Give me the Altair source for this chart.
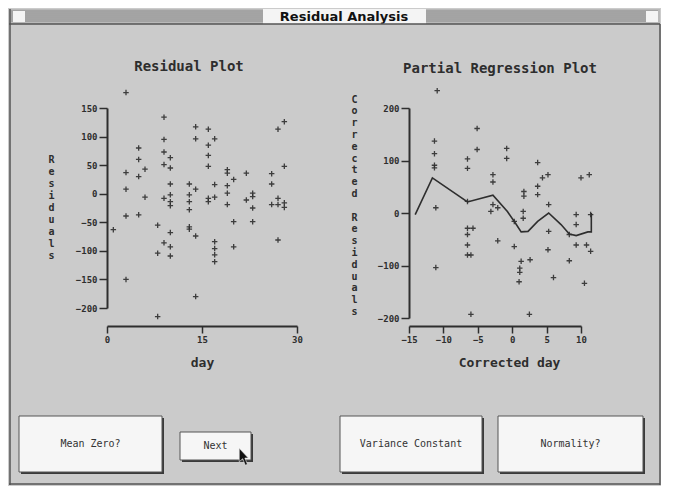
import altair as alt
import pandas as pd

# ---------------- data ----------------
# Residual plot (left): day vs residual
day = [1, 3, 3, 3, 3, 3, 5, 5, 5, 5, 6, 6,
       8, 8, 8, 9, 9, 9, 9, 9, 9,
       10, 10, 10, 10, 10, 10, 10, 10, 10,
       13, 13, 13, 13, 13, 13, 14, 14, 14, 14, 14,
       16, 16, 16, 16, 16, 16, 17, 17, 17, 17, 17, 17, 17,
       19, 19, 19, 19, 19, 20, 20, 20, 22, 22, 23, 23, 23, 23,
       26, 26, 26, 27, 27, 27, 27, 28, 28, 28, 28]
residual = [-63, 177, 37, 8, -39, -150, 80, 60, 30, -37, 43, -6,
            -55, -104, -215, 134, 95, 73, 51, -8, -86,
            63, 45, 17, -2, -14, -21, -68, -93, -109,
            17, -2, -14, -28, -58, -62, 117, 96, 8, -74, -180,
            113, 85, 67, 48, -8, -14, 96, 16, -6, -84, -96, -107, -119,
            42, 36, 14, 1, -19, 25, -49, -93, 36, -11, 1, -5, -25, -49,
            35, 17, -19, 113, -8, -81, -19, 126, 48, -16, -24]

# Partial regression plot (right): corrected day vs corrected residual
corr_day = [-10.9, -11.3, -11.3, -11.3, -11.3, -11.1, -11.1,
            -6.5, -6.5, -6.5, -6.5, -6.5, -6.5, -6.5, -6.0, -5.7, -6.0,
            -5.1, -5.1, -2.8, -2.8, -2.8, -3.1, -2.1, -2.1, -0.8, -0.8,
            0.3, 0.3, 1.3, 1.1, 1.1, 1.0, 1.7, 1.7, 1.6, 1.6, 2.6, 2.5,
            3.7, 3.7, 3.7, 4.4, 5.2, 5.3, 5.3, 5.2, 6.0, 8.3, 8.3,
            9.3, 9.3, 9.3, 10.0, 10.5, 11.2, 11.4, 11.4, 10.8]
corr_res = [233, 137, 113, 91, 86, 10, -104,
            103, 85, 22, -29, -41, -61, -80, -80, -29, -193,
            161, 121, 73, 59, 16, 3, 10, -53, 123, 104,
            -16, -64, -92, -105, -113, -131, 41, 32, 3, -10, -89, -193,
            96, 51, 35, 67, 73, 16, -35, -70, -123, -41, -91,
            -3, -22, -61, 67, -134, 73, -3, -73, -61]

# smoothed curve drawn through the partial regression plot
smooth_x = [-14.1, -11.6, -6.5, -2.8, -0.7, 0.6, 1.3, 2.3, 3.7, 5.3, 7.1, 8.3, 9.3, 11.0, 11.5, 11.5]
smooth_y = [-3, 67, 21, 34, 3, -22, -36, -35, -16, 0, -22, -40, -43, -36, -36, 0]

left_ticks_x = [0, 15, 30]
left_ticks_y = [150, 100, 50, 0, -50, -100, -150, -200]
right_ticks_x = [-15, -10, -5, 0, 5, 10]
right_ticks_y = [200, 100, 0, -100, -200]

left_ytitle = "Residuals"
right_ytitle = "Corrected Residuals"
button_labels = ["Mean Zero?", "Next", "Variance Constant", "Normality?"]
window_title = "Residual Analysis"

# ---------------- style ----------------
MONO = "DejaVu Sans Mono"
INK = "#2e2e2e"
BG = "#cbcbcb"
PLUS = "M-1,0L1,0M0,-1L0,1"


def stacked(s):
    # one letter per line; the word gap is kept as a blank (Braille blank) glyph
    return [c if c != " " else "\u2800" for c in s]


# ---------------- left: residual plot ----------------
left_df = pd.DataFrame({"day": day, "residual": residual})
left = alt.Chart(left_df).mark_point(
    shape=PLUS, size=30, filled=False, strokeWidth=1.3, color=INK, opacity=0.9
).encode(
    x=alt.X("day:Q",
            scale=alt.Scale(domain=[0, 30], nice=False, zero=False),
            axis=alt.Axis(values=left_ticks_x, offset=18, title="day", tickSize=7,
                          labelPadding=2, titlePadding=12, labelFlush=False,
                          labelOverlap=False, titleFontSize=13)),
    y=alt.Y("residual:Q",
            scale=alt.Scale(domain=[-200, 150], nice=False, zero=False),
            axis=alt.Axis(values=left_ticks_y, title=stacked(left_ytitle), titleAngle=0,
                          titleX=-56, titleY=51, titleAlign="center",
                          titleBaseline="middle", titleLineHeight=12,
                          titleFontSize=10, tickSize=8, labelPadding=2,
                          labelOverlap=False)),
).properties(
    width=190, height=200,
    title=alt.TitleParams("Residual Plot", font=MONO, fontSize=14, fontWeight="bold",
                          color=INK, dx=-13, offset=13),
)

# ---------------- right: partial regression plot ----------------
right_df = pd.DataFrame({"cday": corr_day, "cres": corr_res})
smooth_df = pd.DataFrame({"cday": smooth_x, "cres": smooth_y,
                          "step": list(range(len(smooth_x)))})

rx = alt.Scale(domain=[-15, 10], nice=False, zero=False)
ry = alt.Scale(domain=[-200, 200], nice=False, zero=False)
rx_axis = alt.Axis(values=right_ticks_x, offset=8, title="Corrected day",
                   tickSize=7, labelPadding=2, titlePadding=12,
                   labelFlush=False, labelOverlap=False, tickCount=6,
                   titleFontSize=13, titleX=100)
ry_axis = alt.Axis(values=right_ticks_y, title=stacked(right_ytitle),
                   titleAngle=0, titleX=-55, titleY=-9, titleAlign="center",
                   titleBaseline="middle", titleLineHeight=11.8,
                   titleFontSize=10, tickSize=8, labelPadding=2,
                   labelOverlap=False)

right_pts = alt.Chart(right_df).mark_point(
    shape=PLUS, size=30, filled=False, strokeWidth=1.3, color=INK, opacity=0.9
).encode(
    x=alt.X("cday:Q", scale=rx, axis=rx_axis),
    y=alt.Y("cres:Q", scale=ry, axis=ry_axis),
)
right_line = alt.Chart(smooth_df).mark_line(color=INK, strokeWidth=1.6).encode(
    x=alt.X("cday:Q", scale=rx, axis=rx_axis),
    y=alt.Y("cres:Q", scale=ry, axis=ry_axis),
    order="step:Q",
)
right = alt.layer(right_pts, right_line).properties(
    width=172, height=210,
    title=alt.TitleParams("Partial Regression Plot", font=MONO, fontSize=14,
                          fontWeight="bold", color=INK, dx=5, offset=9),
)

# ---------------- window chrome & buttons (pixel layout, page coordinates) ----------------
OX, OY = 106, 416  # page position of the chrome view's origin


def pix(df):
    df = df.copy()
    for c in ("x", "x2"):
        if c in df:
            df[c] = df[c] - OX
    for c in ("y", "y2"):
        if c in df:
            df[c] = df[c] - OY
    return df


def px(f):
    return alt.X(f"{f}:Q", scale=None, axis=None)


def py(f):
    return alt.Y(f"{f}:Q", scale=None, axis=None)


btn_x0 = [18, 179, 339, 497]
btn_x1 = [161, 250, 481, 642]
btn_y0 = [415, 431, 415, 415]
btn_y1 = [471, 459, 471, 471]
btn = pix(pd.DataFrame({"x": btn_x0, "x2": btn_x1, "y": btn_y0, "y2": btn_y1,
                        "label": button_labels}))
shadow = btn.copy()
shadow[["x", "x2"]] += 2
shadow[["y", "y2"]] += 2
btn_text = btn.assign(cx=(btn.x + btn.x2) / 2, cy=(btn.y + btn.y2) / 2)

shadow_l = alt.Chart(shadow).mark_rect(color="#3a3a3a").encode(
    x=px("x"), x2="x2", y=py("y"), y2="y2")
face_l = alt.Chart(btn).mark_rect(fill="#f6f6f6", stroke="#555", strokeWidth=1).encode(
    x=px("x"), x2="x2", y=py("y"), y2="y2")
text_l = alt.Chart(btn_text).mark_text(font=MONO, fontSize=10, color="#333").encode(
    x=px("cx"), y=py("cy"), text="label:N")

# title bar
bar = pix(pd.DataFrame({"x": [8], "x2": [659], "y": [8], "y2": [23]}))
bar_l = alt.Chart(bar).mark_rect(fill="#b9b9b9").encode(
    x=px("x"), x2="x2", y=py("y"), y2="y2")
stripes = pix(pd.DataFrame({"x": [10] * 6, "x2": [657] * 6,
                            "y": [10, 12, 14, 16, 18, 20]}))
stripes_l = alt.Chart(stripes).mark_rule(color="#8e8e8e", strokeWidth=1).encode(
    x=px("x"), x2="x2", y=py("y"))
tbox = pix(pd.DataFrame({"x": [262, 12, 645], "x2": [425, 24, 657],
                         "y": [8, 10, 10], "y2": [23, 21, 21]}))
tbox_l = alt.Chart(tbox).mark_rect(fill="#f4f4f4").encode(
    x=px("x"), x2="x2", y=py("y"), y2="y2")
ttext = pix(pd.DataFrame({"x": [343], "y": [16], "t": [window_title]}))
ttext_l = alt.Chart(ttext).mark_text(font="DejaVu Sans", fontSize=13, fontWeight="bold",
                                     color="#111", baseline="middle").encode(
    x=px("x"), y=py("y"), text="t:N")

# frame lines: under title bar, right scroll bar edge, bottom scroll bar edge, left edge
hlines = pix(pd.DataFrame({"x": [8, 8], "x2": [659, 659], "y": [23, 483]}))
hlines_l = alt.Chart(hlines).mark_rule(color="#555", strokeWidth=1.5).encode(
    x=px("x"), x2="x2", y=py("y"))
vlines = pix(pd.DataFrame({"x": [9, 659], "y": [8, 23], "y2": [484, 484]}))
vlines_l = alt.Chart(vlines).mark_rule(color="#555", strokeWidth=1.5).encode(
    x=px("x"), y=py("y"), y2="y2")

# mouse pointer over the "Next" button
cursor = pix(pd.DataFrame({"x": [243], "y": [456]}))
cursor_l = alt.Chart(cursor).mark_point(
    shape="M-0.55,-1L-0.55,0.55L-0.15,0.2L0.15,0.95L0.4,0.85L0.1,0.12L0.5,0.12Z",
    size=300, filled=True, color="#111", stroke="#eee", strokeWidth=0.6, opacity=1
).encode(x=px("x"), y=py("y"))

chrome = alt.layer(
    bar_l, stripes_l, tbox_l, ttext_l, hlines_l, vlines_l,
    shadow_l, face_l, text_l, cursor_l,
).properties(width=100, height=57)

top = alt.hconcat(left, right, spacing=112, bounds="flush")
# with flush bounds the nested row counts as zero height, so the gap includes the
# plot height (210) plus the space down to the buttons (99)
chart = alt.vconcat(top, chrome, spacing=309, bounds="flush").properties(
    padding=0,
).configure(
    background=BG,
).configure_view(
    stroke=None,
).configure_axis(
    grid=False,
    labelFont=MONO, labelFontSize=9, labelFontWeight="bold", labelColor=INK,
    titleFont=MONO, titleFontWeight="bold", titleColor=INK,
    domainColor=INK, domainWidth=2, tickColor=INK, tickWidth=1.5,
)

chart.save("out.html", embed_options={"renderer": "svg", "actions": False})
